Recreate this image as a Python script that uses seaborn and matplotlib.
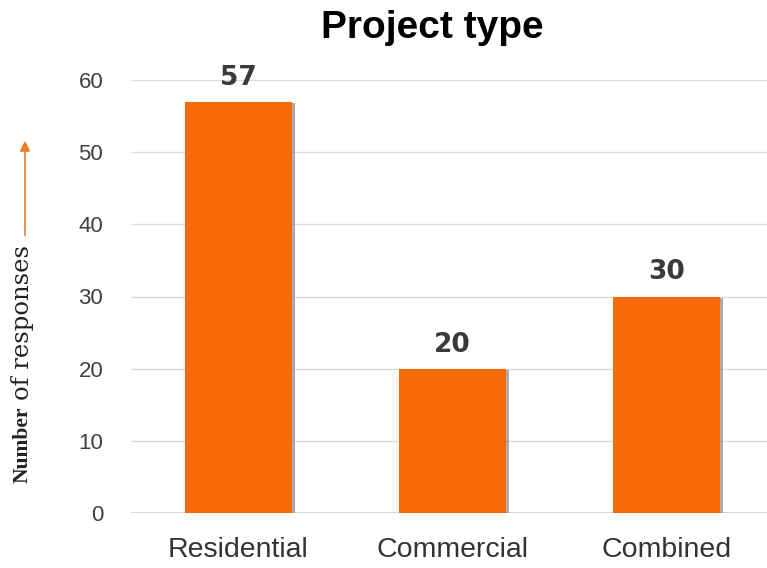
import matplotlib
matplotlib.use("Agg")
import matplotlib.pyplot as plt
import matplotlib.patheffects as pe
import seaborn as sns
import pandas as pd

categories = ["Residential", "Commercial", "Combined"]
responses = [57, 20, 30]
yticks = [0, 10, 20, 30, 40, 50, 60]
title = "Project type"
ylabel_bold = "Number"
ylabel_rest = "of responses"

sns.set_theme(style="white")
plt.rcParams['font.family'] = ['Liberation Sans', 'DejaVu Sans']

W, H = 767, 568
fig = plt.figure(figsize=(W / 100, H / 100), dpi=100)
ax = fig.add_axes([131 / W, 1 - 513 / H, (767 - 131) / W, (513 - 80) / H])

df = pd.DataFrame({"cat": categories, "val": responses})
sns.barplot(data=df, x="cat", y="val", ax=ax, color="#F86A06", width=0.5,
            saturation=1, edgecolor="none")
for p in ax.patches:
    p.set_path_effects([pe.SimplePatchShadow(offset=(2.5, -1), shadow_rgbFace="#777777", alpha=0.6),
                        pe.Normal()])

ax.set_xlim(-0.5, 2.47)
ax.set_ylim(0, 60)
ax.set_yticks(yticks)
ax.set_yticklabels([str(t) for t in yticks], fontsize=16, color="#404040")
ax.set_xticks(range(len(categories)))
ax.set_xticklabels(categories, fontsize=20.5, color="#333333")
ax.tick_params(axis="y", length=0, pad=20)
ax.tick_params(axis="x", length=0, pad=17)
ax.set_xlabel("")
ax.set_ylabel("")
ax.yaxis.grid(True, color="#dcdcdc", linewidth=1)
ax.set_axisbelow(True)
for s in ax.spines.values():
    s.set_visible(False)
ax.axhline(0, color="#d0d0d0", linewidth=1.2, zorder=0.5)

for i, v in enumerate(responses):
    ax.annotate(str(v), (i, v), xytext=(0, 8), textcoords="offset points",
                ha="center", va="bottom", fontsize=19, fontweight="bold",
                color="#3a3a3a", family=['DejaVu Sans'])

fig.text(432 / W, 1 - 28 / H, title, ha="center", va="center", fontsize=28,
         fontweight="bold", color="#000000")

fig.text(23 / W, 1 - 483 / H, ylabel_bold, rotation=90, rotation_mode="anchor",
         ha="left", va="center", fontsize=15.5, fontweight="bold",
         family=['Liberation Serif', 'DejaVu Serif'], color="#222222")
fig.text(23 / W, 1 - 400 / H, ylabel_rest, rotation=90, rotation_mode="anchor",
         ha="left", va="center", fontsize=17.5,
         family=['DejaVu Serif'], color="#222222")

fig.patches.append(matplotlib.patches.FancyArrowPatch(
    (25 / W, 1 - 238 / H), (25 / W, 1 - 138 / H), transform=fig.transFigure,
    arrowstyle="-|>,head_length=6,head_width=3", color="#F07A20", linewidth=1.2,
    mutation_scale=1))

fig.savefig("out.png", dpi=100)
